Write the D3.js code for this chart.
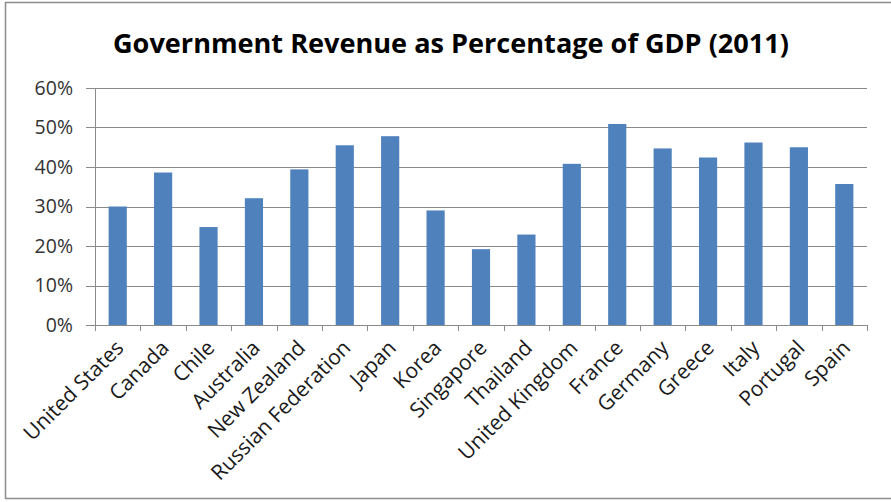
<!DOCTYPE html>
<html>
<head>
  <meta charset="utf-8">
  <style>
    body { margin: 0; background: #fff; }
    text { font-family: "Open Sans", "Noto Sans", sans-serif; }
  </style>
</head>
<body>
  <script src="https://cdn.jsdelivr.net/npm/d3@7"></script>
  <script>
    // data
    var countries = ["United States", "Canada", "Chile", "Australia", "New Zealand",
      "Russian Federation", "Japan", "Korea", "Singapore", "Thailand", "United Kingdom",
      "France", "Germany", "Greece", "Italy", "Portugal", "Spain"];
    var revenue = [30.0, 38.6, 24.8, 32.1, 39.4, 45.5, 47.8, 29.0, 19.2, 22.9, 40.8,
      50.9, 44.7, 42.4, 46.2, 45.0, 35.7];
    var yTicks = [0, 10, 20, 30, 40, 50, 60];

    var W = 891, H = 502;
    var margin = {top: 88, right: 24, bottom: 177, left: 95};
    var width = W - margin.left - margin.right,
        height = H - margin.top - margin.bottom;

    var svg = d3.select("body").append("svg")
      .attr("width", W)
      .attr("height", H);

    // outer chart border
    svg.append("rect")
      .attr("x", 5.5).attr("y", 2.5)
      .attr("width", W).attr("height", 496)
      .attr("fill", "#fff")
      .attr("stroke", "#8c8c8c")
      .attr("stroke-width", 1.5);

    var g = svg.append("g")
      .attr("transform", "translate(" + margin.left + "," + margin.top + ")");

    var x = d3.scaleBand().domain(countries).range([0, width]).paddingInner(0.6).paddingOuter(0.3);
    var xb = d3.scaleLinear().domain([0, countries.length]).range([0, width]);
    var y = d3.scaleLinear().domain([0, 60]).range([height, 0]);

    // gridlines
    g.append("g").selectAll("line")
      .data(yTicks)
      .enter().append("line")
      .attr("x1", -9).attr("x2", width)
      .attr("y1", function(d) { return Math.round(y(d)) + 0.5; })
      .attr("y2", function(d) { return Math.round(y(d)) + 0.5; })
      .attr("stroke", "#8a8a8a")
      .attr("stroke-width", 1.2);

    // y axis line
    g.append("line")
      .attr("x1", 0.5).attr("x2", 0.5)
      .attr("y1", 0).attr("y2", height)
      .attr("stroke", "#8a8a8a");

    // y tick labels
    g.append("g").selectAll("text")
      .data(yTicks)
      .enter().append("text")
      .attr("x", -22)
      .attr("y", function(d) { return y(d); })
      .attr("dy", "0.35em")
      .attr("text-anchor", "end")
      .attr("fill", "#333")
      .style("font-size", "19.5px")
      .text(function(d) { return d + "%"; });

    // x tick marks at category boundaries
    g.append("g").selectAll("line")
      .data(d3.range(countries.length + 1))
      .enter().append("line")
      .attr("x1", function(d) { return Math.round(xb(d)) + 0.5; })
      .attr("x2", function(d) { return Math.round(xb(d)) + 0.5; })
      .attr("y1", height).attr("y2", height + 6)
      .attr("stroke", "#8a8a8a");

    // x labels, rotated
    g.append("g").selectAll("text")
      .data(countries)
      .enter().append("text")
      .attr("transform", function(d) {
        return "translate(" + (x(d) + x.bandwidth() / 2 + 2) + "," + (height + 19) + ") rotate(-45)";
      })
      .attr("text-anchor", "end")
      .attr("dy", "0.35em")
      .attr("fill", "#1a1a1a")
      .style("font-size", "21px")
      .text(function(d) { return d; });

    // bars
    g.selectAll(".bar")
      .data(revenue)
      .enter().append("rect")
      .attr("class", "bar")
      .attr("x", function(d, i) { return x(countries[i]); })
      .attr("width", x.bandwidth())
      .attr("y", function(d) { return y(d); })
      .attr("height", function(d) { return height - y(d); })
      .attr("fill", "#4f81bd");

    // title
    svg.append("text")
      .attr("x", 451)
      .attr("y", 53)
      .attr("text-anchor", "middle")
      .attr("fill", "#000")
      .style("font-size", "27px")
      .style("font-weight", "bold")
      .attr("textLength", 676)
      .attr("lengthAdjust", "spacingAndGlyphs")
      .text("Government Revenue as Percentage of GDP (2011)");
  </script>
</body>
</html>
